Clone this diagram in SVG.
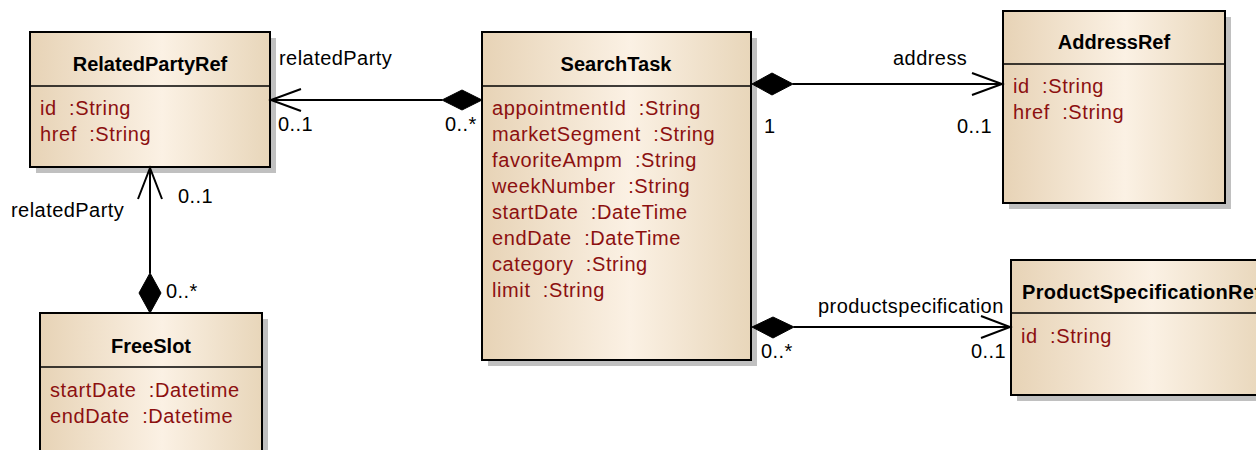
<svg xmlns="http://www.w3.org/2000/svg" width="1256" height="450" viewBox="0 0 1256 450">
<defs>
<linearGradient id="fillG" x1="0" y1="0" x2="1" y2="0">
<stop offset="0" stop-color="#e7d3b6"/>
<stop offset="0.55" stop-color="#fbf1e4"/>
<stop offset="1" stop-color="#e8d6ba"/>
</linearGradient>
</defs>
<style>
.shadow{fill:#c0c0c0}
.box{fill:url(#fillG);stroke:#000;stroke-width:2}
.div{stroke:#000;stroke-width:1.5}
.title{font-family:"Liberation Sans",Arial,sans-serif;font-size:20px;font-weight:bold;fill:#000;text-anchor:middle}
.attr{font-family:"Liberation Sans",Arial,sans-serif;font-size:20px;fill:#8c1010;letter-spacing:0.6px}
.lbl{font-family:"Liberation Sans",Arial,sans-serif;font-size:20px;fill:#000;letter-spacing:0.45px}
.line{stroke:#000;stroke-width:2;fill:none}
.dia{fill:#000;stroke:#000;stroke-width:1}
</style>
<rect width="1256" height="450" fill="#fff"/>

<g id="RelatedPartyRef">
<rect class="shadow" x="36" y="38" width="240" height="135"/>
<rect class="box" x="30" y="32" width="240" height="135"/>
<line class="div" x1="30" y1="86" x2="270" y2="86"/>
<text class="title" x="150" y="71">RelatedPartyRef</text>
<text class="attr" x="40" y="115">id&#160; :String</text>
<text class="attr" x="40" y="141">href&#160; :String</text>
</g>

<g id="SearchTask">
<rect class="shadow" x="488" y="38" width="269" height="328"/>
<rect class="box" x="482" y="32" width="269" height="328"/>
<line class="div" x1="482" y1="86" x2="751" y2="86"/>
<text class="title" x="616" y="71">SearchTask</text>
<text class="attr" x="492" y="115">appointmentId&#160; :String</text>
<text class="attr" x="492" y="141">marketSegment&#160; :String</text>
<text class="attr" x="492" y="167">favoriteAmpm&#160; :String</text>
<text class="attr" x="492" y="193">weekNumber&#160; :String</text>
<text class="attr" x="492" y="219">startDate&#160; :DateTime</text>
<text class="attr" x="492" y="245">endDate&#160; :DateTime</text>
<text class="attr" x="492" y="271">category&#160; :String</text>
<text class="attr" x="492" y="297">limit&#160; :String</text>
</g>

<g id="AddressRef">
<rect class="shadow" x="1009" y="17" width="222" height="192"/>
<rect class="box" x="1003" y="11" width="222" height="192"/>
<line class="div" x1="1003" y1="64" x2="1225" y2="64"/>
<text class="title" x="1114" y="49">AddressRef</text>
<text class="attr" x="1013" y="93">id&#160; :String</text>
<text class="attr" x="1013" y="119">href&#160; :String</text>
</g>

<g id="ProductSpecificationRef">
<rect class="shadow" x="1017" y="266" width="256" height="135"/>
<rect class="box" x="1011" y="260" width="256" height="135"/>
<line class="div" x1="1011" y1="313" x2="1267" y2="313"/>
<text class="title" x="1022" y="299" style="text-anchor:start;letter-spacing:0.3px">ProductSpecificationRef</text>
<text class="attr" x="1021" y="343">id&#160; :String</text>
</g>

<g id="FreeSlot">
<rect class="shadow" x="46" y="319" width="222" height="150"/>
<rect class="box" x="40" y="313" width="222" height="150"/>
<line class="div" x1="40" y1="367" x2="262" y2="367"/>
<text class="title" x="151" y="353">FreeSlot</text>
<text class="attr" x="50" y="397">startDate&#160; :Datetime</text>
<text class="attr" x="50" y="423">endDate&#160; :Datetime</text>
</g>

<g id="connectors">
<g id="c-searchtask-relatedparty">
<line class="line" x1="442" y1="100" x2="271" y2="100"/>
<polyline class="line" points="301,89 271,100 301,111"/>
<polygon class="dia" points="482,100 462,90 442,100 462,110"/>
<text class="lbl" x="279" y="65">relatedParty</text>
<text class="lbl" x="278" y="131">0..1</text>
<text class="lbl" x="445" y="131">0..*</text>
</g>
<g id="c-searchtask-address">
<line class="line" x1="793" y1="84" x2="1002" y2="84"/>
<polyline class="line" points="972,73 1002,84 972,95"/>
<polygon class="dia" points="752,84 772,73 793,84 772,95"/>
<text class="lbl" x="893" y="65">address</text>
<text class="lbl" x="764" y="133">1</text>
<text class="lbl" x="957" y="133">0..1</text>
</g>
<g id="c-searchtask-productspec">
<line class="line" x1="794" y1="327" x2="1010" y2="327"/>
<polyline class="line" points="981,316 1010,327 981,338"/>
<polygon class="dia" points="752,327 773,317 794,327 773,338"/>
<text class="lbl" x="818" y="313">productspecification</text>
<text class="lbl" x="761" y="358">0..*</text>
<text class="lbl" x="971" y="358">0..1</text>
</g>
<g id="c-freeslot-relatedparty">
<line class="line" x1="150" y1="273" x2="150" y2="168"/>
<polyline class="line" points="138,199 150,168 162,199"/>
<polygon class="dia" points="150,313 139,293 150,273 161,293"/>
<text class="lbl" x="11" y="217">relatedParty</text>
<text class="lbl" x="178" y="203">0..1</text>
<text class="lbl" x="166" y="298">0..*</text>
</g>
</g>
</svg>
